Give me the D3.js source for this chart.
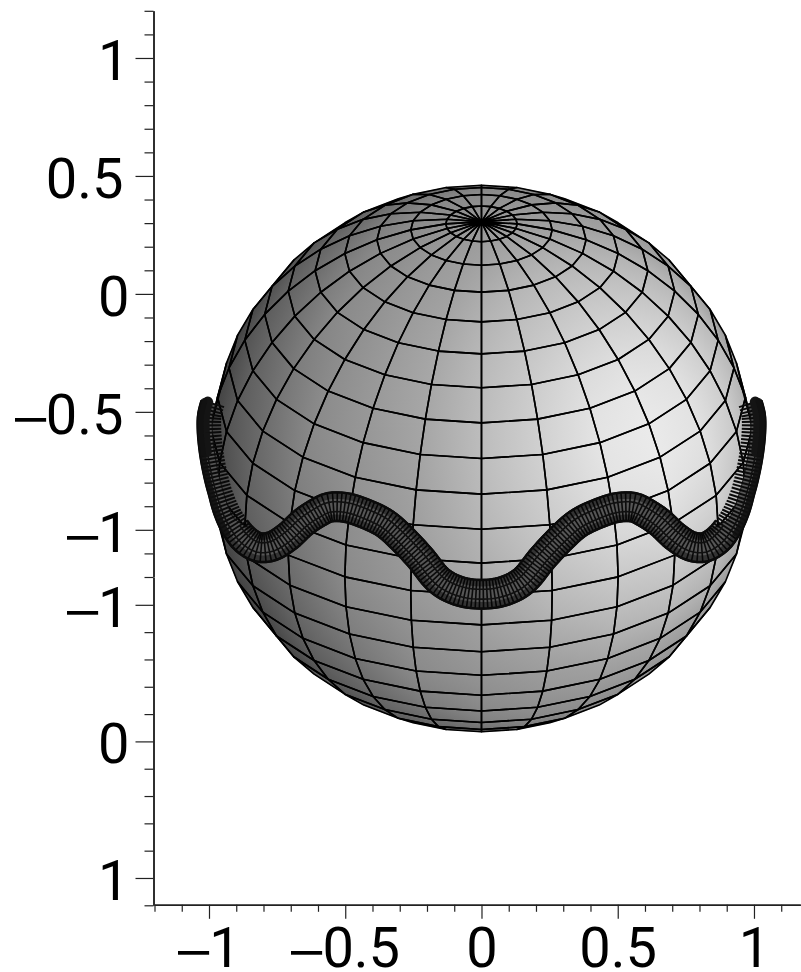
<!DOCTYPE html>
<html><head><meta charset="utf-8">
<style>
@font-face{font-family:DashFace;src:local("Liberation Sans");unicode-range:U+2013}
html,body{margin:0;padding:0;background:#fff}svg{display:block}</style>
<script src="https://cdn.jsdelivr.net/npm/d3@7/dist/d3.min.js"></script>
</head><body><svg id="c" width="801" height="972"></svg>
<script>
// tick values as printed on the picture
const xMajor = [-1, -0.5, 0, 0.5, 1];
const xMinor = [-1.2,-1.1,-0.9,-0.8,-0.7,-0.6,-0.4,-0.3,-0.2,-0.1,0.1,0.2,0.3,0.4,0.6,0.7,0.8,0.9,1.1];
const yUpperMajor = [1, 0.5, 0, -0.5, -1];
const yUpperMinor = [1.2,1.1,0.9,0.8,0.7,0.6,0.4,0.3,0.2,0.1,-0.1,-0.2,-0.3,-0.4,-0.6,-0.7,-0.8,-0.9,-1.1,-1.2];
const yLowerMajor = [-1, 0, 1];
const yLowerMinor = [-0.8,-0.6,-0.4,-0.2,0.2,0.4,0.6,0.8,1.2];
// sphere mesh (degrees)
const meshLon = [-180,-165,-150,-135,-120,-105,-90,-75,-60,-45,-30,-15,0,15,30,45,60,75,90,105,120,135,150,165,180];
const meshLat = [90,82.5,75,67.5,60,52.5,45,37.5,30,22.5,15,7.5,0,-7.5,-15,-22.5,-30,-37.5,-45,-52.5,-60,-67.5,-75,-82.5,-90];
// tube centre line, read in axis units
const curveX = [-0.987,-0.998,-0.999,-0.992,-0.979,-0.961,-0.936,-0.908,-0.868,-0.820,-0.769,-0.710,-0.655,-0.605,-0.560,-0.500,-0.430,-0.354,-0.292,-0.226,-0.152,-0.079,0,0.079,0.152,0.226,0.292,0.354,0.430,0.500,0.560,0.605,0.655,0.710,0.769,0.820,0.868,0.908,0.936,0.961,0.979,0.992,0.999,0.998,0.987];
const curveY = [-0.465,-0.516,-0.580,-0.664,-0.749,-0.833,-0.918,-0.981,-1.041,-1.074,-1.070,-1.028,-0.969,-0.930,-0.905,-0.905,-0.930,-0.973,-1.036,-1.117,-1.218,-1.261,-1.273,-1.261,-1.218,-1.117,-1.036,-0.973,-0.930,-0.905,-0.905,-0.930,-0.969,-1.028,-1.070,-1.074,-1.041,-0.981,-0.918,-0.833,-0.749,-0.664,-0.580,-0.516,-0.465];

const svg = d3.select("#c");
const defs = svg.append("defs");
const x = d3.scaleLinear().domain([-1.2,1.17]).range([154.5,800.3]);
const yU = d3.scaleLinear().domain([-1.2,1.2]).range([577.0,10.8]);
const yL = d3.scaleLinear().domain([-1.2,1.2]).range([577.5,905.3]);
const R = 273.3, cx = x(0), cy = 458.5;
const proj = d3.geoOrthographic().scale(R).translate([cx,cy]).rotate([0,-30,0]);

// shading
const ramp = d3.scaleLinear().domain([-1,-0.4,-0.25,0,0.23,0.35,0.47,0.6,0.75,0.82,0.89,0.95,1]).range([0.2,0.28,0.35,0.43,0.54,0.56,0.60,0.63,0.72,0.76,0.81,0.87,0.92]);
const L = [0.62,0.08,0.78];
function shade(p){
  const nx=(p[0]-cx)/R, ny=(cy-p[1])/R, nz=Math.sqrt(Math.max(0,1-nx*nx-ny*ny));
  return ramp(nx*L[0]+ny*L[1]+nz*L[2]);
}
const grey = s => { const v=Math.round(255*Math.min(1,Math.max(0,s))); return `rgb(${v},${v},${v})`; };

const gFill = svg.append("g"), gLines = svg.append("g");
const line = d3.line().curve(d3.curveLinearClosed);
let gid=0;
for(let i=0;i<meshLon.length-1;i++) for(let j=0;j<meshLat.length-1;j++){
  const c=[[meshLon[i],meshLat[j]],[meshLon[i+1],meshLat[j]],[meshLon[i+1],meshLat[j+1]],[meshLon[i],meshLat[j+1]]];
  const p=c.map(proj);
  const mid=[(meshLon[i]+meshLon[i+1])/2,(meshLat[j]+meshLat[j+1])/2];
  if(d3.geoDistance(mid,[0,30])>Math.PI/2+0.02) continue;
  const s=p.map(shade);
  // least-squares plane of the corner shades gives one smooth gradient per facet
  const mx=d3.mean(p,q=>q[0]), my=d3.mean(p,q=>q[1]), ms=d3.mean(s);
  let xx=0,xy=0,yy=0,xs=0,ys=0;
  p.forEach((q,k)=>{const a=q[0]-mx,b=q[1]-my,e=s[k]-ms;xx+=a*a;xy+=a*b;yy+=b*b;xs+=a*e;ys+=b*e;});
  const det=xx*yy-xy*xy;
  let gx=0,gy=0;
  if(Math.abs(det)>1e-6){gx=(yy*xs-xy*ys)/det;gy=(xx*ys-xy*xs)/det;}
  const gm=Math.hypot(gx,gy)||1e-9, D=d3.max(p,q=>Math.hypot(q[0]-mx,q[1]-my));
  const id="f"+(gid++);
  const lg=defs.append("linearGradient").attr("id",id).attr("gradientUnits","userSpaceOnUse")
    .attr("x1",mx-gx/gm*D).attr("y1",my-gy/gm*D).attr("x2",mx+gx/gm*D).attr("y2",my+gy/gm*D);
  lg.append("stop").attr("offset",0).attr("stop-color",grey(ms-gm*D));
  lg.append("stop").attr("offset",1).attr("stop-color",grey(ms+gm*D));
  gFill.append("path").attr("d",line(p)).attr("fill",`url(#${id})`).attr("stroke",`url(#${id})`).attr("stroke-width",0.7);
  gLines.append("path").attr("d",line(p)).attr("fill","none").attr("stroke","#000")
    .attr("stroke-width",1.6).attr("stroke-linejoin","round");
}

// tube
const centre = d3.line().curve(d3.curveCatmullRom.alpha(0.5)).x((d,i)=>x(curveX[i])).y((d,i)=>yU(curveY[i]));
const guide = svg.append("path").attr("d",centre(curveX)).attr("fill","none").attr("stroke","none").node();
const len = guide.getTotalLength(), pitch = 3.7, rings = Math.round(len/pitch);
const samples = d3.range(rings+1).map(k=>{
  const l=k/rings*len, a=guide.getPointAtLength(Math.max(0,l-1)), b=guide.getPointAtLength(Math.min(len,l+1)), q=guide.getPointAtLength(l);
  const dx=b.x-a.x, dy=b.y-a.y, m=Math.hypot(dx,dy)||1;
  const end=Math.min(l,len-l);                // distance from the nearer tube end
  const t=Math.min(1,Math.max(0,(end-90)/50));
  const hw=12+3*t;                            // half width: narrows at the ends
  const t2=Math.min(1,Math.max(0,(end-120)/25));
  const inner=3+(hw-3)*t2;                    // inner side open where the sphere cuts the tube
  return {x:q.x,y:q.y,nx:dy/m,ny:-dx/m,hw,inner,end,t2};
});
const off=(s,o)=>[s.x+s.nx*o,s.y+s.ny*o];
const g=svg.append("g");
const openLine=d3.line();
g.append("path").attr("d",line(samples.map(s=>off(s,-s.hw)).concat(samples.slice().reverse().map(s=>off(s,s.inner)))))
 .attr("fill","#565656").attr("stroke","#151515").attr("stroke-width",1);
samples.forEach(s=>{
  g.append("path").attr("d",openLine([off(s,-s.hw),off(s,s.hw)])).attr("stroke","#0a0a0a").attr("stroke-width",2-0.4*s.t2).attr("fill","none");
});
const strand=(f,w,c,o,list)=>g.append("path").attr("d",openLine((list||samples).map(s=>off(s,f(s))))).attr("fill","none").attr("stroke",c).attr("stroke-width",w).attr("stroke-opacity",o).attr("stroke-linejoin","round");
strand(s=>-s.hw*0.72,6,"#000",0.4);
strand(s=>-s.hw*0.95,2.6,"#0a0a0a",1);
strand(s=>-s.hw*0.33,1.6,"#101010",1);
const closed=samples.filter(s=>s.inner>s.hw*0.5);
strand(s=>s.hw*0.33,1.6,"#101010",1,closed);
strand(s=>s.hw*0.72,6,"#000",0.4,closed);
strand(s=>s.hw*0.95,2.4,"#0a0a0a",1,closed);
// dark rounded tube ends
[samples.slice(0,14),samples.slice(-14)].forEach(c=>strand(s=>-s.hw*0.42,11,"#141414",1,c).attr("stroke-linecap","round"));
[samples.slice(0,36),samples.slice(-36)].forEach(c=>strand(s=>-s.hw*0.72,6,"#111",0.85,c).attr("stroke-linecap","round"));

// axes
const font="DashFace,Roboto,'Liberation Sans',Arial,sans-serif";
function styleAxis(sel){
  sel.select(".domain").attr("stroke","#222").attr("stroke-width",1.5);
  sel.selectAll(".tick line").attr("stroke","#222").attr("stroke-width",1.2);
  sel.selectAll("text").attr("fill","#000").style("font-family",font).style("font-size","56px").style("font-weight",400);
}
const fmt=d=>String(d).replace("-","\u2013");
function left(scale,maj,min){
  const a=svg.append("g").attr("transform","translate(153.5,0)");
  const g1=a.append("g").call(d3.axisLeft(scale).tickValues(min).tickSize(9).tickSizeOuter(0).tickFormat(""));
  styleAxis(g1);
  const g2=a.append("g").call(d3.axisLeft(scale).tickValues(maj).tickSize(18).tickSizeOuter(0).tickPadding(6).tickFormat(fmt));
  styleAxis(g2);
  g2.selectAll("text").attr("dy","21.5px").attr("dx",d=>Number.isInteger(d)?"0":"-6");
}
left(yU,yUpperMajor,yUpperMinor);
left(yL,yLowerMajor,yLowerMinor);
const xg=svg.append("g").attr("transform","translate(0,904.8)");
const x1=xg.append("g").call(d3.axisBottom(x).tickValues(xMinor).tickSize(7).tickSizeOuter(0).tickFormat(""));
styleAxis(x1);
const x2=xg.append("g").call(d3.axisBottom(x).tickValues(xMajor).tickSize(14).tickSizeOuter(0).tickPadding(7).tickFormat(fmt));
styleAxis(x2);
x2.selectAll("text").attr("y",62).attr("dy","0");
</script></body></html>
